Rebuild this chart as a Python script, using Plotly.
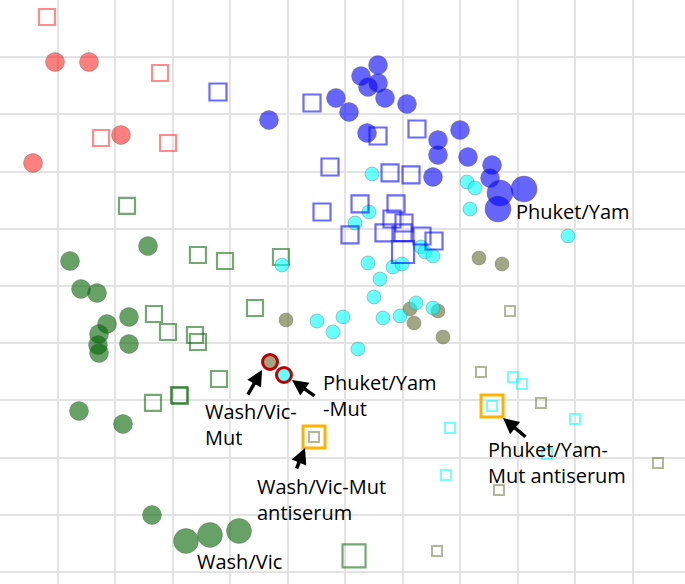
import plotly.graph_objects as go

# ---- antigenic map coordinates (1 grid unit = 1 antigenic unit) ----
# Antigens (circles)
red_ag_x = [0.957, 1.548, 2.104, 0.574]
red_ag_y = [1.084, 1.084, 2.360, 2.850]

blue_ag_x = [4.678, 5.843, 6.070, 6.278, 6.574, 6.400, 6.574, 6.696, 7.078, 6.383,
             7.617, 8.000, 7.617, 8.139, 7.530, 8.557, 8.522]
blue_ag_y = [2.098, 1.713, 1.958, 1.329, 1.136, 1.521, 1.451, 1.713, 1.818, 2.325,
             2.448, 2.273, 2.710, 2.745, 3.094, 2.885, 3.112]
blue_ref_x = [8.696, 9.113, 8.661]
blue_ref_y = [3.374, 3.304, 3.654]

cyan_ag_x = [6.470, 6.417, 6.174, 8.122, 8.261, 8.174, 9.878, 7.322, 7.391, 7.530,
             6.400, 6.835, 6.991, 6.609, 6.504, 5.965, 6.661, 6.957, 7.235, 7.530,
             5.791, 6.226, 4.904, 5.513]
cyan_ag_y = [3.042, 3.706, 3.899, 3.182, 3.287, 3.654, 4.126, 4.318, 4.406, 4.476,
             4.598, 4.668, 4.615, 4.878, 5.192, 5.542, 5.559, 5.524, 5.297, 5.385,
             5.804, 6.101, 4.633, 5.612]

olive_ag_x = [8.330, 8.730, 7.130, 7.200, 7.617, 7.704, 4.974]
olive_ag_y = [4.510, 4.615, 5.402, 5.647, 5.437, 5.892, 5.594]

green_ag_x = [2.574, 1.217, 1.409, 1.687, 1.861, 2.243, 1.722, 1.704, 1.722, 2.243,
              1.374, 2.139, 2.643]
green_ag_y = [4.301, 4.563, 5.052, 5.122, 5.664, 5.542, 5.839, 6.031, 6.171, 6.014,
              7.185, 7.413, 9.003]
green_ref_x = [3.235, 3.652, 4.157]
green_ref_y = [9.458, 9.353, 9.283]

mut_ag_x = [4.696, 4.939]          # Wash/Vic-Mut, Phuket/Yam-Mut
mut_ag_y = [6.329, 6.556]
mut_ag_group = ["olive", "cyan"]

# Sera (squares)
red_sr_x = [0.817, 2.783, 1.757, 2.922]
red_sr_y = [0.297, 1.276, 2.413, 2.500]

blue_sr_x = [3.791, 5.426, 6.574, 7.252, 5.739, 6.783, 7.148, 5.600, 6.261, 6.887,
             6.817, 7.026, 6.087, 6.678, 7.009, 7.339, 7.548]
blue_sr_y = [1.608, 1.801, 2.378, 2.255, 2.920, 3.024, 3.059, 3.706, 3.566, 3.566,
             3.829, 3.899, 4.108, 4.073, 4.073, 4.126, 4.213]
blue_sr_big_x = [7.009]
blue_sr_big_y = [4.406]

green_sr_x = [2.209, 3.443, 3.913, 4.887, 2.678, 2.922, 3.391, 3.443, 4.435, 3.809,
              3.113, 3.130, 2.661]
green_sr_y = [3.601, 4.458, 4.563, 4.493, 5.490, 5.804, 5.857, 5.979, 5.385, 6.626,
              6.906, 6.920, 7.045]
green_sr_big_x = [6.157]
green_sr_big_y = [9.720]

olive_sr_x = [8.870, 8.365, 9.409, 11.443, 8.678, 7.600, 5.461]
olive_sr_y = [5.437, 6.503, 7.045, 8.094, 8.566, 9.633, 7.640]

cyan_sr_x = [8.922, 9.078, 10.000, 7.826, 7.757, 9.513, 8.557]
cyan_sr_y = [6.591, 6.713, 7.325, 7.483, 8.304, 7.937, 7.098]

mut_sr_x = [5.461, 8.557]          # highlighted Mut antisera
mut_sr_y = [7.640, 7.098]

labels = ["Phuket/Yam", "Wash/Vic-<br>Mut", "Phuket/Yam<br>-Mut",
          "Wash/Vic-Mut<br>antiserum", "Phuket/Yam-<br>Mut antiserum", "Wash/Vic"]
label_x = [8.939, 3.530, 5.583, 4.435, 8.452, 3.391]
label_y = [3.706, 7.413, 6.906, 8.741, 8.094, 9.808]

arrow_x = [4.557, 5.078, 5.304, 8.748]
arrow_y = [6.469, 6.643, 7.832, 7.308]
arrow_ax = [-15, 24, -9, 24]
arrow_ay = [26, 17, 22, 20]

# ---- styling ----
RED_C = "rgba(255,0,0,0.5)"
BLUE_C = "rgba(0,0,255,0.6)"
GREEN_C = "rgba(0,100,0,0.6)"
CYAN_C = "rgba(0,255,255,0.6)"
OLIVE_C = "rgba(85,95,30,0.55)"
RED_S = "rgba(255,0,0,0.45)"
BLUE_S = "rgba(0,0,255,0.58)"
GREEN_S = "rgba(0,100,0,0.55)"
CYAN_S = "rgba(0,255,255,0.55)"
OLIVE_S = "rgba(85,95,30,0.45)"
OUTL = dict(color="rgba(90,90,90,0.35)", width=1)

fig = go.Figure()

def sera(x, y, color, size, width=2.2):
    fig.add_trace(go.Scatter(x=x, y=y, mode="markers", hoverinfo="skip",
                             marker=dict(symbol="square-open", size=size, color=color,
                                         line=dict(width=width, color=color))))

def ag(x, y, color, size, line=OUTL):
    fig.add_trace(go.Scatter(x=x, y=y, mode="markers", hoverinfo="skip",
                             marker=dict(symbol="circle", size=size, color=color, line=line)))

sera(red_sr_x, red_sr_y, RED_S, 16)
sera(green_sr_x, green_sr_y, GREEN_S, 16)
sera(green_sr_big_x, green_sr_big_y, GREEN_S, 23)
sera(olive_sr_x, olive_sr_y, OLIVE_S, 10, 2)
sera(cyan_sr_x, cyan_sr_y, CYAN_S, 10, 2)
# orange highlight boxes
sera(mut_sr_x, mut_sr_y, "#FFB300", 22, 3)

ag(red_ag_x, red_ag_y, RED_C, 19)
ag(green_ag_x, green_ag_y, GREEN_C, 19)
ag(green_ref_x, green_ref_y, GREEN_C, 25)
ag(olive_ag_x, olive_ag_y, OLIVE_C, 14)
ag(cyan_ag_x, cyan_ag_y, CYAN_C, 14)
ag(blue_ag_x, blue_ag_y, BLUE_C, 19)
ag(blue_ref_x, blue_ref_y, BLUE_C, 26)
sera(blue_sr_x, blue_sr_y, BLUE_S, 17)
sera(blue_sr_big_x, blue_sr_big_y, BLUE_S, 22)

mut_fill = {"olive": "rgb(160,166,128)", "cyan": "rgb(100,255,255)"}
ag(mut_ag_x, mut_ag_y, [mut_fill[g] for g in mut_ag_group], 15,
   line=dict(color="#C00000", width=3))

for t, x, y in zip(labels, label_x, label_y):
    fig.add_annotation(x=x, y=y, text=t, showarrow=False, xanchor="left", yanchor="middle",
                       align="left", font=dict(family="Open Sans", size=20, color="black"))

for x, y, ax, ay in zip(arrow_x, arrow_y, arrow_ax, arrow_ay):
    fig.add_annotation(x=x, y=y, ax=ax, ay=ay, text="", showarrow=True,
                       arrowhead=2, arrowsize=0.9, arrowwidth=3.5, arrowcolor="black",
                       standoff=0)

fig.update_layout(
    width=685, height=584, margin=dict(l=0, r=0, t=0, b=0),
    paper_bgcolor="white", plot_bgcolor="white", showlegend=False,
    xaxis=dict(range=[0, 11.913], dtick=1, tick0=0, showgrid=True,
               gridcolor="#E3E3E3", gridwidth=1.5, zeroline=False,
               showticklabels=False, ticks=""),
    yaxis=dict(range=[10.21, 0], dtick=1, tick0=0, showgrid=True,
               gridcolor="#E3E3E3", gridwidth=1.5, zeroline=False,
               showticklabels=False, ticks=""),
)

fig.write_html("out.html", config={"displayModeBar": False},
               post_script="document.body.style.margin='0px';document.body.style.overflow='hidden';")
